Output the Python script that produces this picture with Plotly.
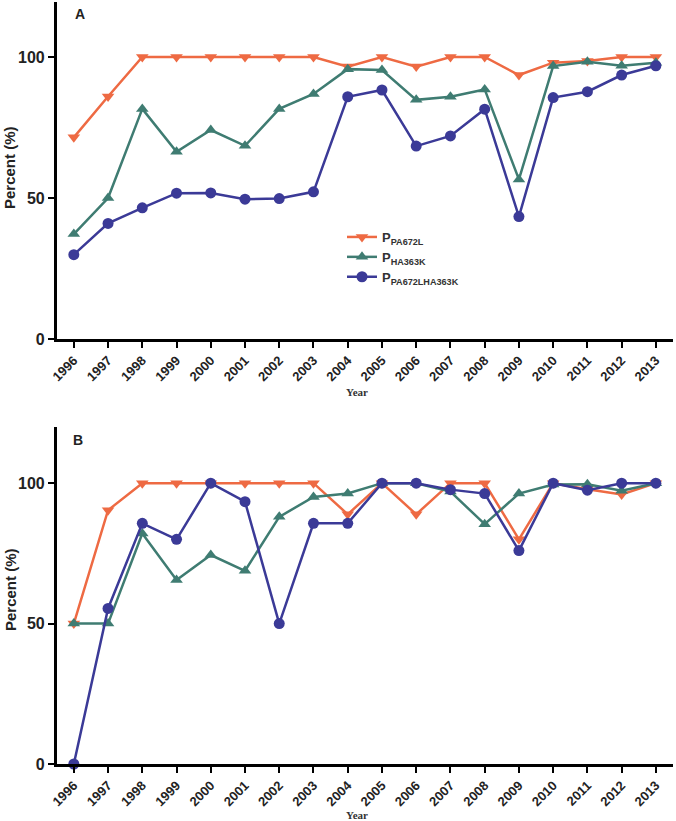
import plotly.graph_objects as go

years = list(range(1996, 2014))
year_labels = [str(y) for y in years]

# Panel A
a_pa672l = [71.5, 86, 100, 100, 100, 100, 100, 100, 96.6, 100, 96.6, 100, 100, 93.6, 98, 98.6, 100, 100]
a_ha363k = [37.2, 50, 81.6, 66.4, 74.1, 68.5, 81.6, 86.9, 95.7, 95.4, 84.8, 85.9, 88.5, 56.6, 96.8, 98.3, 96.9, 98]
a_both = [29.9, 41, 46.5, 51.7, 51.8, 49.6, 49.8, 52.2, 85.9, 88.3, 68.4, 72, 81.5, 43.4, 85.6, 87.7, 93.6, 96.9]

# Panel B
b_pa672l = [50, 90.4, 100, 100, 100, 100, 100, 100, 88.9, 100, 88.9, 100, 100, 80, 100, 97.8, 96, 100]
b_ha363k = [50, 50, 82.1, 65.5, 74.4, 68.8, 88, 95.1, 96.3, 100, 100, 97, 85.4, 96.3, 99.5, 99.6, 97.3, 100]
b_both = [0, 55.4, 85.7, 80, 100, 93.4, 50, 85.7, 85.7, 100, 100, 97.7, 96.3, 76, 100, 97.5, 100, 100]

names = ["P<sub>PA672L</sub>", "P<sub>HA363K</sub>", "P<sub>PA672LHA363K</sub>"]
colors = ["#EE6A43", "#3F7C72", "#3B3A97"]
symbols = ["triangle-down", "triangle-up", "circle"]

W, H = 676, 821
FONT = "Arial, Liberation Sans, sans-serif"


def px(x):
    return x / W


def py(y):
    return min(1.0, max(0.0, 1 - y / H))


fig = go.Figure()
seriesA = [a_pa672l, a_ha363k, a_both]
seriesB = [b_pa672l, b_ha363k, b_both]
for i in range(3):
    fig.add_trace(go.Scatter(x=years, y=seriesA[i], name=names[i], mode="lines+markers",
                             line=dict(color=colors[i], width=2.5),
                             marker=dict(symbol=symbols[i], size=11, color=colors[i]),
                             xaxis="x", yaxis="y", showlegend=True, cliponaxis=False))
for i in range(3):
    fig.add_trace(go.Scatter(x=years, y=seriesB[i], name=names[i], mode="lines+markers",
                             line=dict(color=colors[i], width=2.5),
                             marker=dict(symbol=symbols[i], size=11, color=colors[i]),
                             xaxis="x2", yaxis="y2", showlegend=False, cliponaxis=False))

x0, x1 = px(56.7), px(673)
dA = [py(339), py(2)]
dB = [py(764), py(427)]
topA = (339 - 2) / 2.82

xcommon = dict(range=[1995.5, 2013.5], tickmode="array", tickvals=years, ticktext=year_labels,
               tickangle=-45, showline=True, linecolor="black", linewidth=2.5,
               ticks="outside", ticklen=6, tickwidth=2, tickcolor="black",
               showgrid=False, zeroline=False, automargin=False,
               tickfont=dict(family=FONT, size=13, color="#222", weight="bold"))
ycommon = dict(tickmode="array", tickvals=[0, 50, 100],
               showline=True, linecolor="black", linewidth=2.5,
               ticks="outside", ticklen=6, tickwidth=2, tickcolor="black",
               showgrid=False, zeroline=False, automargin=False,
               tickfont=dict(family=FONT, size=16, color="#222", weight="bold"))

fig.update_layout(
    width=W, height=H, margin=dict(l=0, r=0, t=0, b=0),
    paper_bgcolor="white", plot_bgcolor="white", template="none",
    xaxis=dict(domain=[x0, x1], anchor="y", **xcommon),
    yaxis=dict(domain=dA, anchor="x", range=[0, topA], **ycommon),
    xaxis2=dict(domain=[x0, x1], anchor="y2", **xcommon),
    yaxis2=dict(domain=dB, anchor="x2", range=[0, 120], **ycommon),
    legend=dict(x=px(342), y=py(222), xanchor="left", yanchor="top",
                bgcolor="rgba(0,0,0,0)", tracegroupgap=0, itemwidth=30,
                font=dict(family=FONT, size=13, color="#333", weight="bold")),
    showlegend=True,
)

ann = []
for yc in [168, 590]:
    ann.append(dict(text="Percent (%)", x=px(10), y=py(yc), xref="paper", yref="paper",
                    showarrow=False, textangle=-90, xanchor="center", yanchor="middle",
                    font=dict(family=FONT, size=15, color="#222", weight="bold")))
for yc in [392, 815]:
    ann.append(dict(text="Year", x=px(357), y=py(yc), xref="paper", yref="paper",
                    showarrow=False, xanchor="center", yanchor="middle",
                    font=dict(family="Liberation Serif, Times New Roman, serif", size=11,
                              color="#333", weight="bold")))
for lab, xc, yc in [("A", 80, 14), ("B", 78, 440)]:
    ann.append(dict(text=lab, x=px(xc), y=py(yc), xref="paper", yref="paper",
                    showarrow=False, xanchor="center", yanchor="middle",
                    font=dict(family=FONT, size=14, color="#222", weight="bold")))
fig.update_layout(annotations=ann)

fig.write_html("out.html", config={"displayModeBar": False},
               post_script="document.body.style.margin='0';document.body.style.padding='0';document.body.style.overflow='hidden';")
